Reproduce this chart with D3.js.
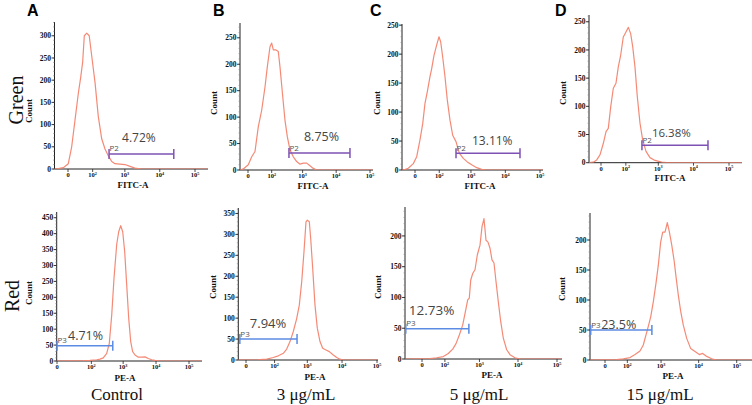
<!DOCTYPE html>
<html><head><meta charset="utf-8">
<script src="https://cdn.jsdelivr.net/npm/d3@7"></script>
<style>body{margin:0;background:#fff}</style>
</head><body>
<svg id="chart" width="752" height="405"></svg>
<script>
// ---------------- data ----------------
const columnLetters = ["A", "B", "C", "D"];
const conditions = ["Control", "3 μg/mL", "5 μg/mL", "15 μg/mL"];
const rowNames = ["Green", "Red"];
const channels = ["FITC-A", "PE-A"];
const gateNames = ["P2", "P3"];
const greenPercents = [4.72, 8.75, 13.11, 16.38];
const redPercents = [4.71, 7.94, 12.73, 23.5];
const xTickValues = [0, 100, 1000, 10000, 100000];
const greenYMaxTick = [300, 250, 250, 250];
const redYMaxTick = [450, 350, 200, 200];
const greenGates = [[340, 25000], [380, 25600], [355, 26500], [330, 25600]];
const redGates = [[0, 480], [-9, 500], [-56, 520], [-48, 560]];
const greenGateLevel = [34, 32, 29, 31];
const redGateLevel = [48, 50, 49, 50];

// histograms: [intensity, count]
const greenA = [[-40,0],[-31,0],[-9,3],[0.5,12],[6.8,50],[14.5,110],[24,170],[32,205],[40,240],[47.5,300],[60,306],[75,300],[92.5,255],[121,195],[156,118],[201,68],[255,45],[322,30],[409,17],[513,12],[721,11],[1010,10],[1409,6],[1962,2],[3115,0],[300000,0]];
const greenB = [[-40,0],[-18,0],[-9.4,2],[0.5,10],[7.2,25],[15.2,35],[25.4,82],[38.4,113],[54.4,157],[67.9,195],[86.5,233],[100,240],[115,227],[143,227],[171,224],[195,195],[240,139],[284,94],[337,63],[409,38],[519,25],[660,16],[832,11],[1048,13],[1327,13],[1667,8],[2093,3],[2643,0],[300000,0]];
const greenC = [[-40,0],[-29,0],[-14,3],[-3,11],[3,23],[9.8,52],[16.7,80],[23.5,115],[31.5,135],[42.6,161],[50.7,175],[63.2,198],[80.5,216],[97.9,230],[112.6,221],[132,195],[158,161],[188,121],[230,86],[280,60],[355,49],[448,29],[591,20],[779,14],[1051,9],[1474,4],[2064,1],[2885,0],[300000,0]];
const greenD = [[-40,0],[-28,0],[-16,1],[-8,5],[-1.7,14],[4,34],[9.6,55],[15.1,61],[21.9,99],[30.5,132],[41,141],[51.7,170],[64.6,191],[81,223],[101,232],[122,240],[146,229],[170,206],[201,170],[238,117],[288,70],[348,40],[437,20],[573,9],[802,4],[1252,1],[1740,0],[300000,0]];
const redA = [[-5,0],[0,0],[53,1],[90,2],[150,4],[191,6],[243,10],[311,24],[374,55],[445,144],[524,260],[634,366],[731,406],[842,425],[970,406],[1116,343],[1285,239],[1479,134],[1702,61],[1958,29],[2301,19],[2899,12],[3678,12],[4634,13],[5835,8],[7400,4],[9315,2],[13210,0],[300000,0]];
const redB = [[-30,0],[-12,0],[18.4,0],[27.2,1],[52.3,2],[90.6,6],[133,10],[192,16],[244,26],[308,44],[387,68],[488,99],[583,131],[686,187],[801,259],[916,330],[1000,334],[1143,330],[1255,290],[1433,219],[1671,131],[1948,76],[2329,44],[2786,28],[3467,24],[4313,20],[5616,12],[7030,6],[8737,2],[10860,0],[300000,0]];
const redC = [[-80,0],[-60,0],[21,0.5],[48,2],[88,4],[130,9],[179,16],[225,25],[281,39],[350,55],[433,82],[483,96],[534,99],[583,128],[660,139],[761,145],[877,169],[1034,185],[1168,215],[1318,228],[1488,193],[1678,190],[1894,180],[2134,161],[2405,156],[2710,126],[3108,93],[3588,61],[4186,34],[5124,15],[6234,7],[8380,2],[11270,0],[300000,0]];
const redD = [[-80,0],[-48,0],[36,0.5],[71,2],[124,4],[180,9],[255,15],[319,25],[382,42],[444,56],[519,72],[613,97],[728,128],[842,158],[979,197],[1109,213],[1279,213],[1476,229],[1670,214],[1937,192],[2230,167],[2521,139],[2902,108],[3360,81],[3938,58],[4844,36],[6178,19],[8022,14],[10416,9],[12793,11],[16300,6],[22074,2],[29860,0],[300000,0]];

const greenHist = [greenA, greenB, greenC, greenD];
const redHist = [redA, redB, redC, redD];

// ---------------- layout (positions only) ----------------
const layout = [
  [ // top row
    {ax:54.5, ar:208, p0:68,  p5:195, c:25, y0:169,   yTop:22, yMax:331, letterX:27,  countX:29,  countY:111, titleX:133, titleDy:18.5, pctDx:13, pctDy:-12, pctSize:12},
    {ax:240,  ar:373, p0:248, p5:370, c:25, y0:170,   yTop:23, yMax:278, letterX:213, countX:214, countY:103, titleX:313, titleDy:18.5, pctDx:15, pctDy:-12, pctSize:12.5},
    {ax:402,  ar:543, p0:415, p5:540, c:25, y0:170,   yTop:24, yMax:252, letterX:370, countX:377, countY:103, titleX:480, titleDy:18.5, pctDx:16, pctDy:-8,  pctSize:12},
    {ax:589,  ar:742, p0:601, p5:729, c:25, y0:162.7, yTop:15, yMax:262, letterX:555, countX:563, countY:93,  titleX:670, titleDy:18.5, pctDx:10, pctDy:-8,  pctSize:11.5}
  ],
  [ // bottom row
    {ax:56.7, ar:202, p0:57,  p5:189,   c:10, y0:361, yTop:212, yMax:468, countX:29,  countY:293, titleX:125, titleDy:20, pctDx:11, pctDy:-6,  pctSize:12.5, condX:117},
    {ax:238.3,ar:378, p0:246, p5:377,   c:18, y0:360, yTop:208, yMax:363, countX:213, countY:287, titleX:315, titleDy:19.5, pctDx:10, pctDy:-11, pctSize:13, condX:306},
    {ax:405,  ar:562, p0:422, p5:557,   c:35, y0:359, yTop:207, yMax:247, countX:378, countY:287, titleX:492, titleDy:18.5, pctDx:3,  pctDy:-14, pctSize:13.5, condX:479},
    {ax:590,  ar:752, p0:605, p5:736.7, c:35, y0:360, yTop:213, yMax:245, countX:562, countY:289, titleX:673, titleDy:19, pctDx:10.5, pctDy:-1, pctSize:12.5, condX:660}
  ]
];

const histColor = "#f3846f";
const gateColors = ["#7e52b4", "#5b8be3"];
const axisColor = "#222";
const serif = "'Liberation Serif','DejaVu Serif',serif";
const sans = "'Open Sans','Liberation Sans',sans-serif";

const svg = d3.select("#chart");
const defs = svg.append("defs");

function drawPanel(r, col) {
  const L = layout[r][col];
  const hist = r === 0 ? greenHist[col] : redHist[col];
  const gate = r === 0 ? greenGates[col] : redGates[col];
  const gateLevel = r === 0 ? greenGateLevel[col] : redGateLevel[col];
  const pct = r === 0 ? greenPercents[col] : redPercents[col];
  const maxTick = r === 0 ? greenYMaxTick[col] : redYMaxTick[col];

  // biexponential-like axis via symlog
  const x = d3.scaleSymlog().constant(L.c).domain([0, 100000]).range([L.p0, L.p5]);
  const lo = x.invert(L.ax), hi = x.invert(L.ar);
  x.domain([lo, hi]).range([L.ax, L.ar]);
  const y = d3.scaleLinear().domain([0, L.yMax]).range([L.y0, L.yTop]);

  const g = svg.append("g");
  const clipId = `clip-${r}-${col}`;
  defs.append("clipPath").attr("id", clipId).append("rect")
    .attr("x", L.ax).attr("y", L.yTop - 5).attr("width", L.ar - L.ax).attr("height", L.y0 - L.yTop + 5);

  // y axis with minor ticks
  g.append("line").attr("x1", L.ax).attr("x2", L.ax).attr("y1", L.yTop).attr("y2", L.y0)
    .attr("stroke", axisColor).attr("stroke-width", 1);
  const minor = d3.range(0, L.yMax + 0.1, 10);
  g.selectAll(".ymin").data(minor).join("line")
    .attr("x1", L.ax - 1.5).attr("x2", L.ax).attr("y1", d => y(d)).attr("y2", d => y(d))
    .attr("stroke", "#888").attr("stroke-width", 0.6);
  const major = d3.range(0, maxTick + 0.1, 50);
  g.selectAll(".ymaj").data(major).join("line")
    .attr("x1", L.ax - 3).attr("x2", L.ax).attr("y1", d => y(d)).attr("y2", d => y(d))
    .attr("stroke", axisColor).attr("stroke-width", 0.9);
  g.selectAll(".ylab").data(major).join("text")
    .attr("x", L.ax - 3.5).attr("y", d => y(d)).attr("dy", "0.35em")
    .attr("text-anchor", "end").attr("font-family", serif).attr("font-weight", "bold")
    .attr("font-size", 7.5).attr("fill", "#111").text(d => d);

  // x axis
  g.append("line").attr("x1", L.ax).attr("x2", L.ar).attr("y1", L.y0).attr("y2", L.y0)
    .attr("stroke", axisColor).attr("stroke-width", 1);
  g.selectAll(".xt").data(xTickValues).join("line")
    .attr("x1", d => x(d)).attr("x2", d => x(d)).attr("y1", L.y0).attr("y2", L.y0 + 3)
    .attr("stroke", axisColor).attr("stroke-width", 0.8);
  const xl = g.selectAll(".xl").data(xTickValues).join("text")
    .attr("x", d => x(d)).attr("y", L.y0 + 8)
    .attr("text-anchor", "middle").attr("font-family", serif).attr("font-weight", "bold")
    .attr("font-size", 6.5).attr("fill", "#111");
  xl.each(function(d) {
    const t = d3.select(this);
    if (d === 0) { t.text("0"); return; }
    t.append("tspan").text("10");
    t.append("tspan").attr("font-size", 4.2).attr("dy", -2.5).text(Math.round(Math.log10(d)));
  });

  // axis titles
  g.append("text").attr("x", L.titleX).attr("y", L.y0 + L.titleDy)
    .attr("text-anchor", "middle").attr("font-family", serif).attr("font-weight", "bold")
    .attr("font-size", 9).attr("fill", "#111").text(channels[r]);
  g.append("text").attr("transform", `translate(${L.countX},${L.countY}) rotate(-90)`)
    .attr("text-anchor", "middle").attr("dy", "0.35em").attr("font-family", serif)
    .attr("font-weight", "bold").attr("font-size", 9).attr("fill", "#111").text("Count");

  // histogram
  const line = d3.line().x(d => x(d[0])).y(d => y(d[1]));
  g.append("path").datum(hist).attr("d", line).attr("clip-path", `url(#${clipId})`)
    .attr("fill", "none").attr("stroke", histColor).attr("stroke-width", 1.2)
    .attr("stroke-linejoin", "round").attr("opacity", 0.95);

  // gate
  const gc = gateColors[r];
  const gx1 = x(gate[0]), gx2 = x(gate[1]), gy = y(gateLevel);
  g.append("line").attr("x1", gx1).attr("x2", gx2).attr("y1", gy).attr("y2", gy)
    .attr("stroke", gc).attr("stroke-width", 1.5);
  [gx1, gx2].forEach(px => g.append("line").attr("x1", px).attr("x2", px)
    .attr("y1", gy - 5).attr("y2", gy + 5).attr("stroke", gc).attr("stroke-width", 1.5));
  g.append("text").attr("x", gx1 + 0.5).attr("y", gy - 2.5)
    .attr("font-family", sans).attr("font-size", 8).attr("fill", "#555").text(gateNames[r]);
  g.append("text").attr("x", gx1 + L.pctDx).attr("y", gy + L.pctDy)
    .attr("font-family", sans).attr("font-size", L.pctSize).attr("fill", "#444")
    .text(`${pct}%`);

  if (r === 0) {
    g.append("text").attr("x", L.letterX).attr("y", 16)
      .attr("font-family", "'Liberation Sans',Arial,sans-serif").attr("font-weight", "bold")
      .attr("font-size", 16).attr("fill", "#000").text(columnLetters[col]);
  } else {
    g.append("text").attr("x", L.condX).attr("y", 400).attr("text-anchor", "middle")
      .attr("font-family", serif).attr("font-size", 17).attr("fill", "#111").text(conditions[col]);
  }
}

for (let r = 0; r < 2; r++) for (let c = 0; c < 4; c++) drawPanel(r, c);

// row labels
svg.append("text").attr("transform", "translate(16,100) rotate(-90)").attr("text-anchor", "middle")
  .attr("dy", "0.35em").attr("font-family", serif).attr("font-size", 20).attr("fill", "#111").text(rowNames[0]);
svg.append("text").attr("transform", "translate(12,296) rotate(-90)").attr("text-anchor", "middle")
  .attr("dy", "0.35em").attr("font-family", serif).attr("font-size", 20).attr("fill", "#111").text(rowNames[1]);
</script>
</body></html>
